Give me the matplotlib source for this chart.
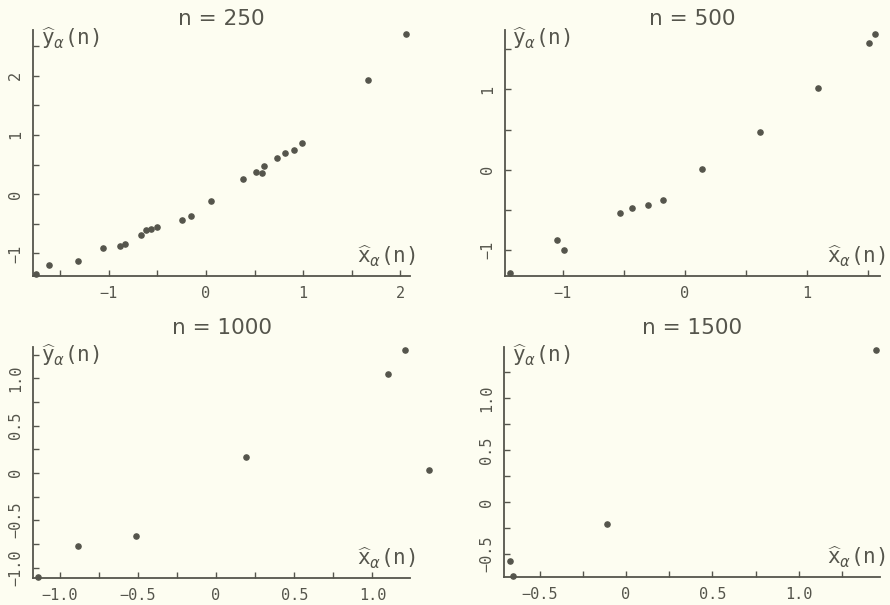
import matplotlib.pyplot as plt
import numpy as np

# estimated points, one list pair per sample size
titles = ['n = 250', 'n = 500', 'n = 1000', 'n = 1500']

x250 = [-1.75, -1.62, -1.32, -1.06, -0.88, -0.83, -0.67, -0.62, -0.57, -0.50,
        -0.25, -0.15, 0.05, 0.38, 0.52, 0.58, 0.60, 0.73, 0.81, 0.91, 0.99,
        1.67, 2.06]
y250 = [-1.35, -1.19, -1.12, -0.90, -0.87, -0.84, -0.69, -0.60, -0.59, -0.56,
        -0.44, -0.37, -0.11, 0.26, 0.37, 0.35, 0.47, 0.61, 0.69, 0.75, 0.86,
        1.93, 2.71]

x500 = [-1.43, -1.05, -0.99, -0.53, -0.43, -0.30, -0.18, 0.14, 0.62, 1.09, 1.51, 1.56]
y500 = [-1.28, -0.87, -1.00, -0.54, -0.47, -0.44, -0.37, 0.01, 0.47, 1.02, 1.58, 1.69]

x1000 = [-1.14, -0.88, -0.51, 0.19, 1.10, 1.21, 1.36]
y1000 = [-1.10, -0.77, -0.67, 0.17, 1.05, 1.30, 0.03]

x1500 = [-0.673, -0.654, -0.108, 1.445]
y1500 = [-0.567, -0.715, -0.21, 1.465]

xs = [x250, x500, x1000, x1500]
ys = [y250, y500, y1000, y1500]

xlims = [(-1.78, 2.10), (-1.475, 1.60), (-1.17, 1.24), (-0.706, 1.47)]
ylims = [(-1.38, 2.77), (-1.32, 1.74), (-1.11, 1.33), (-0.72, 1.49)]
xmajor = [[-1, 0, 1, 2], [-1, 0, 1], [-1.0, -0.5, 0, 0.5, 1.0], [-0.5, 0, 0.5, 1.0]]
xmajlab = [['−1', '0', '1', '2'], ['−1', '0', '1'],
           ['−1.0', '−0.5', '0', '0.5', '1.0'], ['−0.5', '0', '0.5', '1.0']]
ymajor = [[-1, 0, 1, 2], [-1, 0, 1], [-1.0, -0.5, 0, 0.5, 1.0], [-0.5, 0, 0.5, 1.0]]
ymajlab = xmajlab
minor_step = [0.5, 0.5, 0.25, 0.25]
title_pad = [3.5, 3.5, 9, 9]

ink = '#55554c'
bg = '#fdfdf1'

fig = plt.figure(figsize=(8.9, 6.05), dpi=100, facecolor=bg)
positions = [
    [33/890, 1 - 276/605, 377/890, 246/605],
    [505/890, 1 - 276/605, 375/890, 246/605],
    [33/890, 1 - 578/605, 377/890, 231/605],
    [504/890, 1 - 577/605, 376/890, 230/605],
]

for i in range(4):
    ax = fig.add_axes(positions[i])
    ax.set_facecolor(bg)
    ax.scatter(xs[i], ys[i], s=14, color=ink, clip_on=False, zorder=3)
    ax.set_xlim(*xlims[i])
    ax.set_ylim(*ylims[i])
    for s in ['top', 'right']:
        ax.spines[s].set_visible(False)
    for s in ['left', 'bottom']:
        ax.spines[s].set_color(ink)
        ax.spines[s].set_linewidth(1.3)
    ax.set_xticks(xmajor[i])
    ax.set_xticklabels(xmajlab[i])
    ax.set_yticks(ymajor[i])
    ax.set_yticklabels(ymajlab[i], rotation=90, va='center')
    st = minor_step[i]
    ax.set_xticks(np.arange(np.ceil(xlims[i][0] / st) * st, xlims[i][1], st), minor=True)
    ax.set_yticks(np.arange(np.ceil(ylims[i][0] / st) * st, ylims[i][1], st), minor=True)
    ax.tick_params(which='both', direction='in', color=ink, labelcolor=ink,
                   labelsize=11, width=1.0, length=4)
    ax.tick_params(axis='x', pad=7)
    ax.tick_params(axis='y', pad=7)
    for lab in ax.get_xticklabels() + ax.get_yticklabels():
        lab.set_family('DejaVu Sans Mono')
    ax.set_title(titles[i], fontsize=15.5, color=ink, family='DejaVu Sans', pad=title_pad[i])
    ax.text(0.02, 1.02, r'$\widehat{\mathtt{y}}_{\alpha}\mathtt{(n)}$', transform=ax.transAxes,
            ha='left', va='top', fontsize=15, color=ink)
    ax.text(1.015, 0.03, r'$\widehat{\mathtt{x}}_{\alpha}\mathtt{(n)}$', transform=ax.transAxes,
            ha='right', va='bottom', fontsize=15, color=ink)

fig.savefig('out.png', dpi=100, facecolor=bg)
